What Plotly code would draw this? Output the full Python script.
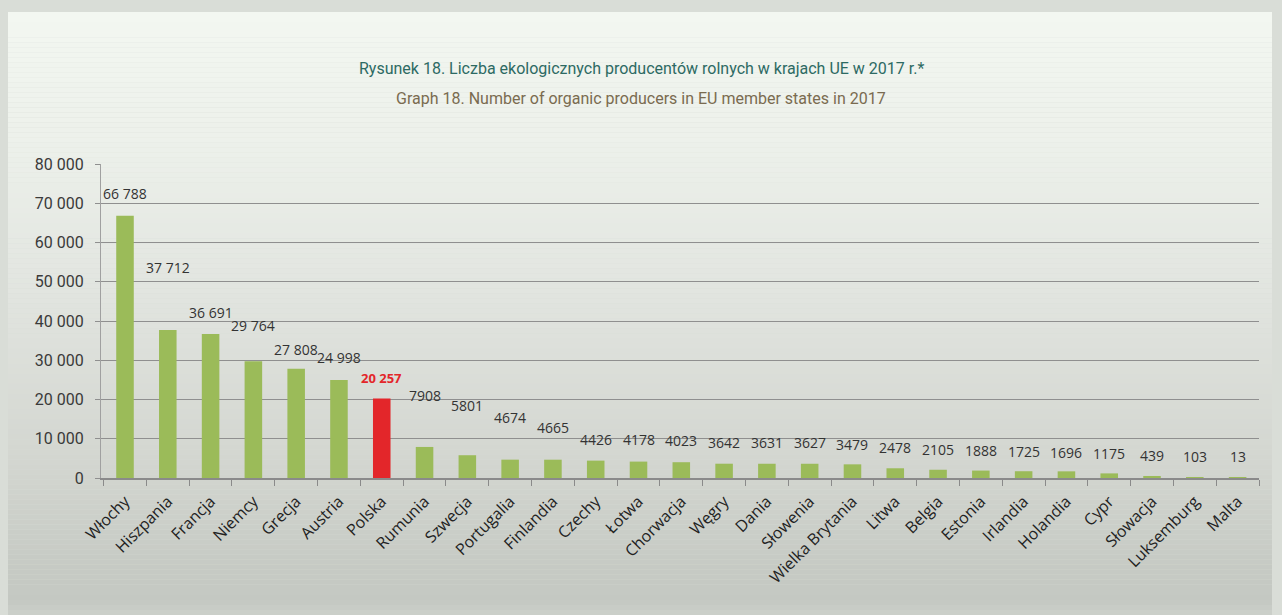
import plotly.graph_objects as go

countries = ["Włochy", "Hiszpania", "Francja", "Niemcy", "Grecja", "Austria", "Polska",
             "Rumunia", "Szwecja", "Portugalia", "Finlandia", "Czechy", "Łotwa", "Chorwacja",
             "Węgry", "Dania", "Słowenia", "Wielka Brytania", "Litwa", "Belgia", "Estonia",
             "Irlandia", "Holandia", "Cypr", "Słowacja", "Luksemburg", "Malta"]
producers = [66788, 37712, 36691, 29764, 27808, 24998, 20257,
             7908, 5801, 4674, 4665, 4426, 4178, 4023,
             3642, 3631, 3627, 3479, 2478, 2105, 1888,
             1725, 1696, 1175, 439, 103, 13]
highlight = "Polska"
y_ticks = [0, 10000, 20000, 30000, 40000, 50000, 60000, 70000, 80000]
y_ticklabels = ["0", "10 000", "20 000", "30 000", "40 000", "50 000", "60 000", "70 000", "80 000"]
title_pl = "Rysunek 18. Liczba ekologicznych producentów rolnych w krajach UE w 2017 r.*"
title_en = "Graph 18. Number of organic producers in EU member states in 2017"

# label vertical offsets (px) above bar tops, as placed in the original
label_shift = [22, 62, 21, 36, 19, 22, 20, 51, 50, 42, 32, 21, 22, 22,
               21, 21, 21, 20, 21, 20, 20, 20, 19, 20, 21, 21, 21]

GREEN = "#9bbb59"
RED = "#e3262a"

W, H = 1282, 615
ML, MR, MT, MB = 101, 23, 164, 137
PW, PH = W - ML - MR, H - MT - MB


def fmt(v):
    if v >= 10000:
        return f"{v:,}".replace(",", " ")
    return str(v)


def px2x(px):
    return (px - ML) / PW


def py2y(py):
    return (H - MB - py) / PH


def lerp_col(stops, t):
    for (t0, c0), (t1, c1) in zip(stops, stops[1:]):
        if t0 <= t <= t1:
            f = 0 if t1 == t0 else (t - t0) / (t1 - t0)
            return "rgb(%d,%d,%d)" % tuple(round(a + (b - a) * f) for a, b in zip(c0, c1))
    return "rgb(%d,%d,%d)" % stops[-1][1]


bar_colors = [RED if c == highlight else GREEN for c in countries]

fig = go.Figure()
fig.add_trace(go.Bar(x=countries, y=producers, marker=dict(color=bar_colors, line=dict(width=0)),
                     hoverinfo="x+y", showlegend=False))

shapes = []
shapes.append(dict(type="rect", xref="paper", yref="paper", x0=px2x(0), x1=px2x(W),
                   y0=py2y(H), y1=py2y(0), fillcolor="#d9ddd7", line=dict(width=0), layer="below"))
stops = [(12, (243, 247, 241)), (150, (236, 240, 234)), (300, (225, 228, 223)),
         (470, (210, 213, 207)), (560, (199, 203, 197)), (600, (196, 200, 194)), (615, (205, 209, 203))]
n = 120
for i in range(n):
    ya = 12 + (615 - 12) * i / n
    yb = 12 + (615 - 12) * (i + 1) / n
    col = lerp_col(stops, (ya + yb) / 2)
    shapes.append(dict(type="rect", xref="paper", yref="paper", x0=px2x(8), x1=px2x(1272),
                       y0=py2y(yb), y1=py2y(ya), fillcolor=col, line=dict(width=0), layer="below"))

annotations = []
for c, v, s in zip(countries, producers, label_shift):
    is_hl = c == highlight
    annotations.append(dict(x=c, y=v, xref="x", yref="y", text=fmt(v), showarrow=False,
                            yanchor="middle", yshift=s,
                            font=dict(family="Open Sans, sans-serif", size=14 if not is_hl else 13,
                                      color=RED if is_hl else "#333333",
                                      weight="bold" if is_hl else "normal")))
annotations.append(dict(x=0.5 * (px2x(0) + px2x(W)), y=py2y(69), xref="paper", yref="paper",
                        text=title_pl, showarrow=False, xanchor="center", yanchor="middle",
                        font=dict(family="Roboto, sans-serif", size=16, color="#2d6a63")))
annotations.append(dict(x=0.5 * (px2x(0) + px2x(W)), y=py2y(99), xref="paper", yref="paper",
                        text=title_en, showarrow=False, xanchor="center", yanchor="middle",
                        font=dict(family="Roboto, sans-serif", size=16, color="#7a6b50")))

fig.update_layout(
    width=W, height=H,
    margin=dict(l=ML, r=MR, t=MT, b=MB, pad=0, autoexpand=False),
    paper_bgcolor="#d9ddd7", plot_bgcolor="rgba(0,0,0,0)",
    bargap=0.59,
    shapes=shapes, annotations=annotations,
    showlegend=False,
)
fig.update_xaxes(type="category", tickangle=-45, tickson="boundaries", ticks="outside", ticklen=6,
                 tickcolor="#8a8a8a", showline=True, linecolor="#8a8a8a", linewidth=1.5,
                 automargin=False, ticklabelstandoff=6,
                 showgrid=False, tickfont=dict(family="Open Sans, sans-serif", size=16, color="#222222"))
fig.update_yaxes(range=[0, 80000], tickvals=y_ticks, ticktext=y_ticklabels, showgrid=True,
                 gridcolor="#8f8f8f", gridwidth=1.2, ticks="outside", ticklen=5, tickcolor="#8f8f8f",
                 showline=True, linecolor="#a0a0a0", linewidth=1, zeroline=False,
                 automargin=False, ticklabelstandoff=8,
                 tickfont=dict(family="Roboto, sans-serif", size=16, color="#3a3a3a"))

fig.write_html("out.html", config={"displayModeBar": False},
               post_script="document.body.style.margin='0';document.body.style.overflow='hidden';")
